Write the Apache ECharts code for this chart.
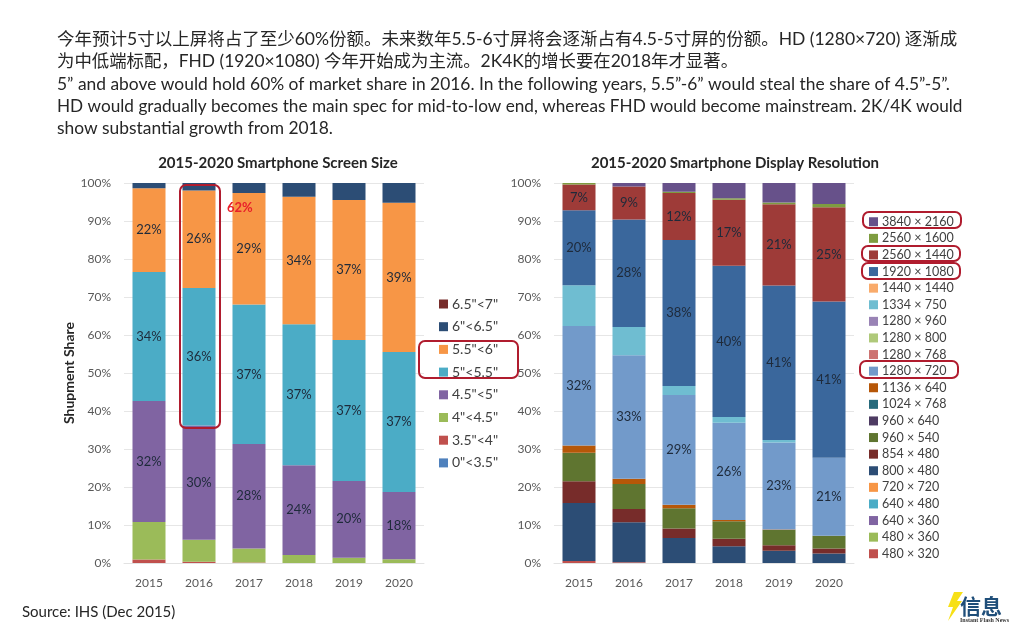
<!DOCTYPE html>
<html>
<head>
<meta charset="utf-8">
<style>
  html, body { margin: 0; padding: 0; background: #fff; }
  #chart { width: 1024px; height: 640px; }
</style>
<script src="https://cdn.jsdelivr.net/npm/echarts@6/dist/echarts.min.js"></script>
</head>
<body>
<div id="chart"></div>
<script>
const FONT = 'Lato, "Noto Sans CJK SC", sans-serif'

const years = ['2015', '2016', '2017', '2018', '2019', '2020']

// left chart, bottom of the stack first
const sizeNames = ['0"<3.5"', '3.5"<4"', '4"<4.5"', '4.5"<5"', '5"<5.5"', '5.5"<6"', '6"<6.5"', '6.5"<7"']
const sizeColors = ['#4f81bd', '#c0504d', '#9bbb59', '#8064a2', '#4bacc6', '#f79646', '#2c4d75', '#772c2a']
const sizeLabelled = ['4.5"<5"', '5"<5.5"', '5.5"<6"']
const size0to35 = [0, 0, 0, 0, 0, 0]
const size35to4 = [0.9, 0.3, 0.1, 0, 0, 0]
const size4to45 = [9.9, 5.8, 3.7, 2.1, 1.4, 1.0]
const size45to5 = [31.8, 30.1, 27.5, 23.6, 20.2, 17.7]
const size5to55 = [34.0, 36.2, 36.7, 37.1, 37.1, 36.8]
const size55to6 = [22.0, 25.6, 29.4, 33.6, 36.8, 39.3]
const size6to65 = [1.4, 2.0, 2.6, 3.6, 4.5, 5.2]
const size65to7 = [0, 0, 0, 0, 0, 0]
const sizeValues = [size0to35, size35to4, size4to45, size45to5, size5to55, size55to6, size6to65, size65to7]

// right chart, bottom of the stack first
const resNames = ['480 × 320', '480 × 360', '640 × 360', '640 × 480', '720 × 720', '800 × 480', '854 × 480',
  '960 × 540', '960 × 640', '1024 × 768', '1136 × 640', '1280 × 720', '1280 × 768', '1280 × 800', '1280 × 960',
  '1334 × 750', '1440 × 1440', '1920 × 1080', '2560 × 1440', '2560 × 1600', '3840 × 2160']
const resColors = ['#c0504d', '#9bbb59', '#8064a2', '#4bacc6', '#f79646', '#2c4d75', '#772c2a',
  '#5f7530', '#4d3b62', '#276a7c', '#b65708', '#729aca', '#cd7371', '#afc97a', '#9983b5',
  '#6fbdd1', '#f9ab6b', '#3a679c', '#9e3b38', '#7e9c40', '#67518a']
const resLabelled = ['1280 × 720', '1920 × 1080', '2560 × 1440']
const res480x320 = [0.5, 0.2, 0, 0, 0, 0]
const res480x360 = [0, 0, 0, 0, 0, 0]
const res640x360 = [0, 0, 0, 0, 0, 0]
const res640x480 = [0, 0, 0, 0, 0, 0]
const res720x720 = [0, 0, 0, 0, 0, 0]
const res800x480 = [15.3, 10.5, 6.6, 4.4, 3.2, 2.5]
const res854x480 = [5.7, 3.5, 2.5, 2.0, 1.5, 1.3]
const res960x540 = [7.5, 6.6, 5.3, 4.6, 4.0, 3.4]
const res960x640 = [0, 0, 0, 0, 0, 0]
const res1024x768 = [0, 0, 0, 0, 0, 0]
const res1136x640 = [1.9, 1.4, 0.9, 0.3, 0.1, 0]
const res1280x720 = [31.5, 32.5, 28.9, 25.6, 22.9, 20.5]
const res1280x768 = [0, 0, 0, 0, 0, 0]
const res1280x800 = [0, 0, 0, 0, 0, 0]
const res1280x960 = [0, 0, 0, 0, 0, 0]
const res1334x750 = [10.7, 7.4, 2.4, 1.5, 0.7, 0]
const res1440x1440 = [0, 0, 0, 0, 0, 0]
const res1920x1080 = [19.7, 28.3, 38.4, 39.8, 40.6, 41.1]
const res2560x1440 = [6.8, 8.7, 12.4, 17.4, 21.4, 24.8]
const res2560x1600 = [0.4, 0, 0.3, 0.4, 0.5, 0.9]
const res3840x2160 = [0, 0.9, 2.3, 4.0, 5.1, 5.5]
const resValues = [res480x320, res480x360, res640x360, res640x480, res720x720, res800x480, res854x480,
  res960x540, res960x640, res1024x768, res1136x640, res1280x720, res1280x768, res1280x800, res1280x960,
  res1334x750, res1440x1440, res1920x1080, res2560x1440, res2560x1600, res3840x2160]

const bodyLines = [
  '今年预计5寸以上屏将占了至少60%份额。未来数年5.5-6寸屏将会逐渐占有4.5-5寸屏的份额。HD (1280×720) 逐渐成',
  '为中低端标配，FHD (1920×1080) 今年开始成为主流。2K4K的增长要在2018年才显著。',
  '5” and above would hold 60% of market share in 2016. In the following years, 5.5”-6” would steal the share of 4.5”-5”.',
  'HD would gradually becomes the main spec for mid-to-low end, whereas FHD would become mainstream. 2K/4K would',
  'show substantial growth from 2018.'
]
const bodyTops = [39, 61, 84, 106, 128]
const bodySizes = [17.5, 17.4, 17.4, 17.2, 17.4]

function makeSeries (names, colors, values, labelled, axisIndex) {
  return names.map((name, i) => ({
    name: name,
    type: 'bar',
    stack: 'share' + axisIndex,
    xAxisIndex: axisIndex,
    yAxisIndex: axisIndex,
    barWidth: 33,
    data: values[i],
    itemStyle: { color: colors[i] },
    label: {
      show: labelled.includes(name),
      position: 'inside',
      color: '#1e2a3a',
      fontFamily: FONT,
      fontSize: 13,
      formatter: p => Math.round(p.value) + '%'
    }
  }))
}

function makeXAxis (gridIndex) {
  return {
    type: 'category',
    gridIndex: gridIndex,
    data: years,
    axisTick: { show: false },
    axisLine: { lineStyle: { color: '#e2e2e2' } },
    axisLabel: { color: '#595959', fontFamily: FONT, fontSize: 12, margin: 14 }
  }
}

function makeYAxis (gridIndex, name) {
  return {
    type: 'value',
    gridIndex: gridIndex,
    min: 0,
    max: 100,
    interval: 10,
    name: name,
    nameLocation: 'middle',
    nameGap: 39,
    nameTextStyle: { color: '#262626', fontFamily: FONT, fontSize: 14, fontWeight: 'bold' },
    axisLabel: { color: '#595959', fontFamily: FONT, fontSize: 12, formatter: '{value}%', margin: 13 },
    splitLine: { lineStyle: { color: '#e6e6e6' } }
  }
}

function redBox (x, y, width, height) {
  return {
    type: 'rect',
    z: 20,
    shape: { x: x, y: y, width: width, height: height, r: 6 },
    style: { fill: 'none', stroke: '#b01c2e', lineWidth: 2 }
  }
}

function plainText (x, y, text, fontSize, color, extra) {
  return {
    type: 'text',
    z: 20,
    x: x,
    y: y,
    style: Object.assign({
      text: text,
      fontFamily: FONT,
      fontSize: fontSize,
      fill: color,
      textVerticalAlign: 'middle'
    }, extra)
  }
}

const chart = echarts.init(document.getElementById('chart'))

chart.setOption({
  backgroundColor: '#fff',
  animation: false,
  title: [
    { text: '2015-2020 Smartphone Screen Size', left: 273, top: 151, textAlign: 'center',
      textStyle: { color: '#262626', fontFamily: FONT, fontSize: 15, fontWeight: 'bold' } },
    { text: '2015-2020 Smartphone Display Resolution', left: 730, top: 151, textAlign: 'center',
      textStyle: { color: '#262626', fontFamily: FONT, fontSize: 15, fontWeight: 'bold' } }
  ],
  grid: [
    { left: 124, top: 183, width: 300, height: 380 },
    { left: 554, top: 183, width: 300, height: 380 }
  ],
  xAxis: [makeXAxis(0), makeXAxis(1)],
  yAxis: [makeYAxis(0, 'Shupment Share'), makeYAxis(1, '')],
  legend: [
    {
      orient: 'vertical',
      left: 434,
      top: 292,
      icon: 'rect',
      itemWidth: 9,
      itemHeight: 9,
      itemGap: 8.7,
      selectedMode: false,
      data: sizeNames.slice().reverse(),
      textStyle: { color: '#404040', fontFamily: FONT, fontSize: 14, padding: [0, 0, 0, -1] }
    },
    {
      orient: 'vertical',
      left: 864,
      top: 210.5,
      icon: 'rect',
      itemWidth: 9,
      itemHeight: 9,
      itemGap: 4.1,
      selectedMode: false,
      data: resNames.slice().reverse(),
      textStyle: { color: '#404040', fontFamily: FONT, fontSize: 12.5, padding: [0, 0, 0, -1] }
    }
  ],
  series: makeSeries(sizeNames, sizeColors, sizeValues, sizeLabelled, 0)
    .concat(makeSeries(resNames, resColors, resValues, resLabelled, 1)),
  graphic: {
    elements: [
      ...bodyLines.map((line, i) => plainText(57, bodyTops[i], line, bodySizes[i], '#262626')),
      plainText(22, 612, 'Source: IHS (Dec 2015)', 15, '#262626'),
      plainText(227, 208, '62%', 13, '#e8202a', { fontWeight: 'bold' }),
      redBox(180, 185, 40, 243),
      redBox(419, 341, 99, 37),
      redBox(863, 212, 98, 16),
      redBox(862, 246, 98, 15),
      redBox(862, 263, 98, 16),
      redBox(860, 361, 98, 17),
      // logo
      {
        type: 'polygon',
        z: 20,
        shape: { points: [[963, 592], [954, 592], [948, 607], [953, 607], [948, 621], [962, 601], [957, 601]] },
        style: { fill: '#f7e017' }
      },
      plainText(960, 606, '信息', 21, '#1f4e79', { fontWeight: 'bold', fontFamily: '"Noto Sans CJK SC"' }),
      plainText(960, 620, 'Instant Flash News', 6, '#333', { fontFamily: '"Liberation Serif"', fontWeight: 'bold' })
    ]
  }
})
</script>
</body>
</html>
